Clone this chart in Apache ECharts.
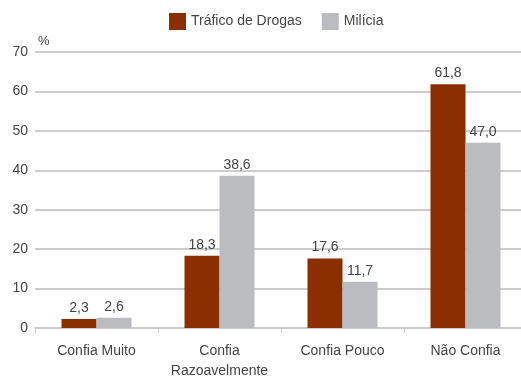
<!DOCTYPE html>
<html><head><meta charset="utf-8">
<script src="https://cdn.jsdelivr.net/npm/echarts@6/dist/echarts.min.js"></script>
<style>html,body{margin:0;padding:0;background:#fff}#c{width:521px;height:377px}</style>
</head><body><div id="c"></div>
<script>
const categories = ['Confia Muito', 'Confia\nRazoavelmente', 'Confia Pouco', 'Não Confia'];
const trafico = [2.3, 18.3, 17.6, 61.8];
const milicia = [2.6, 38.6, 11.7, 47.0];
const seriesNames = ['Tráfico de Drogas', 'Milícia'];
const fmt = p => p.value.toFixed(1).replace('.', ',');
const chart = echarts.init(document.getElementById('c'));
const lbl = {show: true, position: 'top', formatter: fmt, color: '#444', fontSize: 14, fontFamily: 'Liberation Sans, Arial', distance: 4};
chart.setOption({
  animation: false,
  textStyle: {fontFamily: 'Liberation Sans, Arial'},
  legend: {top: 8, left: 164, itemWidth: 17, itemHeight: 17, itemGap: 20,
    icon: 'rect', textStyle: {color: '#444', fontSize: 14}, data: seriesNames},
  grid: {left: 35, top: 52, width: 492, bottom: 49, containLabel: false, outerBoundsMode: 'none'},
  xAxis: {type: 'category', data: categories,
    axisLine: {lineStyle: {color: '#ccc', width: 2}},
    axisTick: {show: true, interval: 0, lineStyle: {color: '#ccc'}, length: 5},
    axisLabel: {interval: 0, hideOverlap: false, color: '#444', fontSize: 14, margin: 13, lineHeight: 20}},
  yAxis: {type: 'value', min: 0, max: 70, interval: 10, name: '%',
    nameLocation: 'end', nameGap: 4, nameTextStyle: {color: '#444', fontSize: 13, align: 'left', padding: [0,0,0,3]},
    axisLine: {show: false}, axisTick: {show: false},
    splitLine: {lineStyle: {color: '#ccc', width: 2}},
    axisLabel: {color: '#444', fontSize: 14, margin: 7}},
  series: [
    {name: seriesNames[0], type: 'bar', data: trafico, barWidth: 35, barGap: '0%', itemStyle: {color: '#8B2E00'}, label: lbl},
    {name: seriesNames[1], type: 'bar', data: milicia, barWidth: 35, barGap: '0%', itemStyle: {color: '#BBBCC0'}, label: lbl}
  ]
});
</script></body></html>
